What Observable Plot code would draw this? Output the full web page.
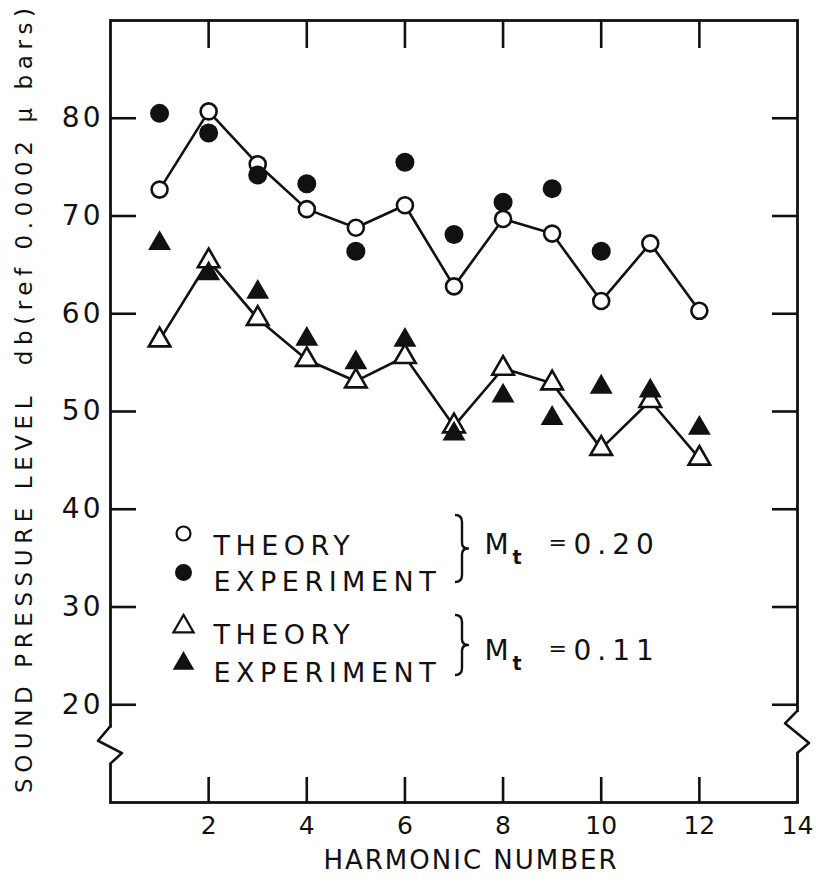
<!DOCTYPE html>
<html><head><meta charset="utf-8">
<script src="https://cdn.jsdelivr.net/npm/d3@7"></script>
<script src="https://cdn.jsdelivr.net/npm/@observablehq/plot@0.6"></script>
<style>
body{margin:0;background:#fff;}
#chart{width:816px;height:882px;}
</style></head><body><div id="chart"></div>
<script>
// ---- data ----
const harmonics = [1, 2, 3, 4, 5, 6, 7, 8, 9, 10, 11, 12];
const theory020 = [72.7, 80.7, 75.3, 70.7, 68.8, 71.1, 62.8, 69.7, 68.2, 61.3, 67.2, 60.3];
const experimentHarmonics020 = [1, 2, 3, 4, 5, 6, 7, 8, 9, 10];
const experiment020 = [80.5, 78.5, 74.2, 73.3, 66.4, 75.5, 68.1, 71.4, 72.8, 66.4];
const theory011 = [57.3, 65.4, 59.5, 55.3, 53.1, 55.6, 48.5, 54.4, 52.9, 46.2, 51.1, 45.2];
const experiment011 = [67.2, 64.1, 62.2, 57.4, 55.0, 57.3, 47.7, 51.6, 49.3, 52.5, 52.1, 48.3];
const xTicks = [2, 4, 6, 8, 10, 12];
const xTickLabels = [2, 4, 6, 8, 10, 12, 14];
const yTicks = [20, 30, 40, 50, 60, 70, 80];
const xTitle = "HARMONIC NUMBER";
const yTitle = "SOUND PRESSURE LEVEL  db(ref 0.0002 \u03bc bars)";
const legendLabels = ["THEORY", "EXPERIMENT", "THEORY", "EXPERIMENT"];
const machLabels = ["0.20", "0.11"];

const rows = (xs, ys) => xs.map((h, i) => ({h, v: ys[i]}));
const t020 = rows(harmonics, theory020);
const e020 = rows(experimentHarmonics020, experiment020);
const t011 = rows(harmonics, theory011);
const e011 = rows(harmonics, experiment011);

const ink = "#111";
const font = "'DejaVu Sans', 'Liberation Sans', sans-serif";
const sw = 2.6;
const TL = {frameAnchor: "top-left", x: null, y: null};

const legendText = (txt, dx, dy, size = 27, weight = "normal") =>
  Plot.text([txt], {...TL, text: d => d, dx, dy, textAnchor: "start", fontSize: size, fontWeight: weight, fill: ink});

const plot = Plot.plot({
  width: 816, height: 882,
  marginLeft: 110, marginRight: 19, marginTop: 20, marginBottom: 80,
  x: {domain: [0, 14]},
  y: {domain: [10, 90]},
  style: {fontFamily: font, background: "#fff", color: ink, overflow: "visible"},
  marks: [
    Plot.frame({stroke: ink, strokeWidth: 2.8}),
    Plot.axisY(yTicks, {anchor: "left", tickSize: -26, strokeWidth: sw, fill: "none", label: null}),
    Plot.axisY(yTicks, {anchor: "right", tickSize: -26, strokeWidth: sw, fill: "none", label: null}),
    Plot.axisX(xTicks, {anchor: "bottom", tickSize: -25, strokeWidth: sw, fill: "none", label: null}),
    Plot.axisX(xTicks, {anchor: "top", tickSize: -27, strokeWidth: sw, fill: "none", label: null}),
    Plot.axisY(yTicks, {anchor: "left", tickSize: 0, tickPadding: 7, fontSize: 28, fill: ink, label: null}),
    Plot.axisX(xTickLabels, {anchor: "bottom", tickSize: 0, tickPadding: 14, fontSize: 25, fill: ink, label: null}),
    Plot.text([xTitle], {frameAnchor: "bottom", text: d => d, dx: 17, dy: 66, fontSize: 26, fill: ink}),
    Plot.text([yTitle], {frameAnchor: "left", text: d => d, textAnchor: "middle", rotate: -90, dx: -86, dy: -11, fontSize: 23, fill: ink}),
    Plot.line(t020, {x: "h", y: "v", stroke: ink, strokeWidth: sw}),
    Plot.line(t011, {x: "h", y: "v", stroke: ink, strokeWidth: sw}),
    Plot.dot(t020, {x: "h", y: "v", r: 8, fill: "white", stroke: ink, strokeWidth: sw}),
    Plot.dot(t011, {x: "h", y: "v", symbol: "triangle", r: 8, fill: "white", stroke: ink, strokeWidth: sw}),
    Plot.dot(e020, {x: "h", y: "v", r: 9.5, fill: ink}),
    Plot.dot(e011, {x: "h", y: "v", symbol: "triangle", r: 8.5, fill: ink}),
    // legend
    Plot.dot([0], {...TL, dx: 73, dy: 513, r: 7, fill: "white", stroke: ink, strokeWidth: 2.2}),
    Plot.dot([0], {...TL, dx: 73, dy: 552, r: 8.5, fill: ink}),
    Plot.dot([0], {...TL, dx: 73, dy: 606, symbol: "triangle", r: 7.5, fill: "white", stroke: ink, strokeWidth: 2.2}),
    Plot.dot([0], {...TL, dx: 73, dy: 643, symbol: "triangle", r: 8, fill: ink}),
    legendText(legendLabels[0], 103, 515),
    legendText(legendLabels[1], 103, 551),
    legendText(legendLabels[2], 103, 604),
    legendText(legendLabels[3], 103, 642),
    legendText("M", 374, 514, 28),
    legendText("t", 402, 530, 19, "bold"),
    legendText("=", 438, 514, 22),
    legendText(machLabels[0], 463, 514, 28),
    legendText("M", 374, 620, 28),
    legendText("t", 402, 636, 19, "bold"),
    legendText("=", 438, 620, 22),
    legendText(machLabels[1], 463, 620, 28)
  ]
});

document.getElementById("chart").appendChild(plot);

// ---- post-render decoration: letter spacing, axis breaks, braces ----
const svg = d3.select(plot);
const textIs = s => function () { return this.textContent === s; };
svg.selectAll('g[aria-label="y-axis tick label"] text').style("letter-spacing", "3px");
legendLabels.forEach(s => svg.selectAll("text").filter(textIs(s)).style("letter-spacing", "5.5px"));
machLabels.forEach(s => svg.selectAll("text").filter(textIs(s)).style("letter-spacing", "6px"));
svg.selectAll("text").filter(textIs(xTitle)).style("letter-spacing", "2px");
svg.selectAll("text").filter(textIs(yTitle)).attr("textLength", 785).attr("lengthAdjust", "spacing");

const xs = plot.scale("x"), ys = plot.scale("y");
const xL = xs.apply(0), xR = xs.apply(14);
const deco = svg.append("g").attr("fill", "none").attr("stroke", ink).attr("stroke-width", 2.6)
  .attr("stroke-linejoin", "round");

function axisBreak(x, v0, v1, f1, f2) {
  const y0 = ys.apply(v0), y1 = ys.apply(v1), h = y1 - y0;
  deco.append("rect").attr("x", x - 3).attr("y", y0).attr("width", 6).attr("height", h)
    .attr("fill", "white").attr("stroke", "none");
  deco.append("path").attr("d", `M${x},${y0 - 1} L${x - 12},${y0 + h * f1} L${x + 12},${y0 + h * f2} L${x},${y1 + 1}`);
}
axisBreak(xL, 17.6, 14.0, 0.37, 0.72);
axisBreak(xR, 19.2, 15.1, 0.28, 0.77);

function brace(cx, y0, y1) {
  const ym = (y0 + y1) / 2;
  deco.append("path").attr("stroke-width", 2.4).attr("d",
    `M${cx - 6},${y0} Q${cx + 1},${y0} ${cx + 1},${y0 + 7} L${cx + 1},${ym - 6} Q${cx + 1},${ym} ${cx + 7},${ym}` +
    ` Q${cx + 1},${ym} ${cx + 1},${ym + 6} L${cx + 1},${y1 - 7} Q${cx + 1},${y1} ${cx - 6},${y1}`);
}
const oy = ys.apply(90); // top of frame
brace(xL + 351, oy + 495, oy + 562);
brace(xL + 351, oy + 595, oy + 655);
</script>
</body></html>
